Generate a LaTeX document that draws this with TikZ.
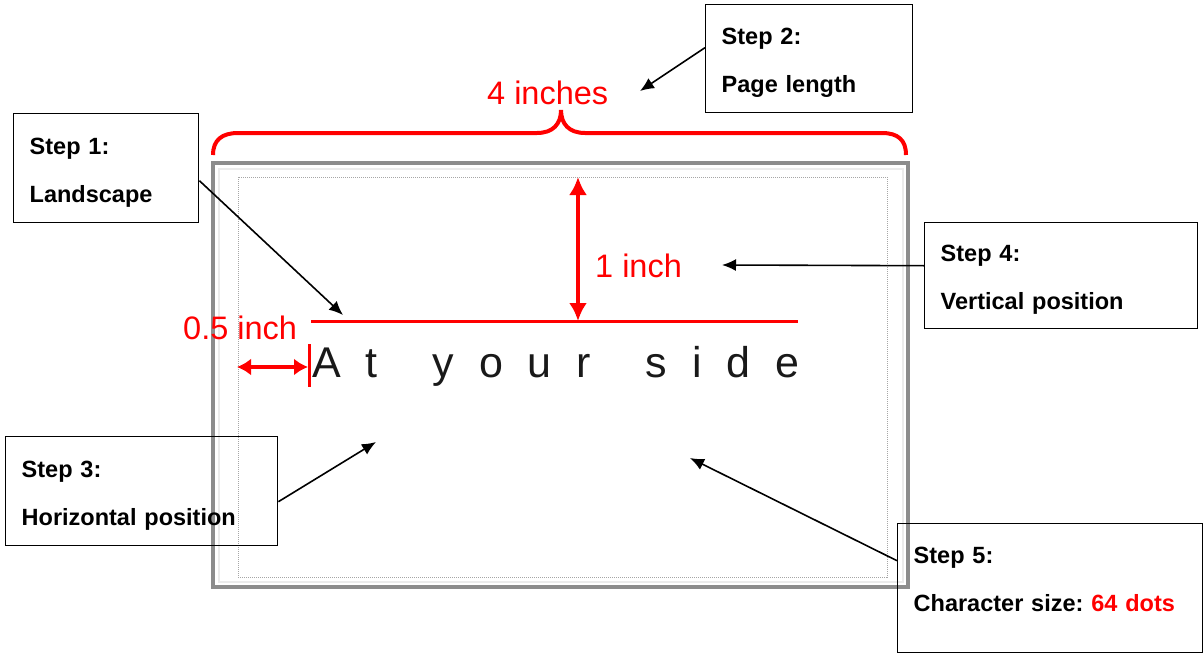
\documentclass[tikz,border=0pt]{standalone}
\usepackage{fontspec}
\setmainfont{Liberation Sans}
\usetikzlibrary{arrows,arrows.meta}
\newcommand{\topstrut}{\rule{0pt}{25pt}}

\tikzset{
  stepbox/.style={draw, line width=1.4pt, anchor=north west, align=left,
    inner xsep=16pt, inner ysep=0pt, font=\bfseries\fontsize{23.5}{48}\selectfont\frenchspacing},
  redlabel/.style={red, anchor=base west, inner sep=0pt, font=\fontsize{32.5}{36}\selectfont},
  pointer/.style={-{Latex[length=14pt,width=12pt]}, line width=1.6pt},
  bigdim/.style={red, line width=4pt, {Latex[length=18pt,width=18pt]}-{Latex[length=18pt,width=18pt]}},
  smalldim/.style={red, line width=4pt, {Latex[length=14pt,width=17pt]}-{Latex[length=14pt,width=17pt]}},
}

\begin{document}
\begin{tikzpicture}[x=1pt, y=-1pt]
\useasboundingbox (0,0) rectangle (1203,653);
%%%%% Page %%%%%
\draw[black!45, line width=4.5pt] (213,163) rectangle (908,587);
\draw[black!8, line width=2pt] (218.5,168.5) rectangle (902.5,581.5);
\draw[black!35, densely dotted, line width=1pt] (238,177) rectangle (887,577);
\node[anchor=base west, inner sep=0pt, black!90,
  font=\fontsize{43}{48}\selectfont\addfontfeature{LetterSpace=58}] (sample) at (312,377)
  {At\hspace{18pt} your\hspace{18pt} side};

%%%%% Red marks %%%%%
\draw[red, line width=4pt] (213,155) .. controls (213,140) and (222,133) .. (238,133) -- (537,133)
  .. controls (553,133) and (561,124) .. (561,110) .. controls (561,124) and (569,133) .. (585,133)
  -- (882,133) .. controls (898,133) and (906,140) .. (906,155);
\node[redlabel] (length) at (487,104) {4 inches};
\coordinate (top) at (578,177);
\coordinate (baseL) at (311,321);
\coordinate (baseR) at (798,321);
\coordinate (base) at (578,321);
\draw[red, line width=3pt] (baseL) -- (baseR);
\draw[bigdim] (top) -- (base);
\node[redlabel] (vert) at (595,277) {1 inch};
\coordinate (edge) at (237,367);
\coordinate (start) at (308,367);
\draw[smalldim] (edge) -- (start);
\draw[red, line width=2.5pt] (309.5,344) -- (309.5,387);
\node[redlabel] (horiz) at (183,339) {0.5 inch};

%%%%% Steps %%%%%
\node[stepbox, minimum width=185pt, minimum height=109pt, text width=153pt] (step1) at (13,113) {\topstrut Step 1:\\Landscape};
\node[stepbox, minimum width=207pt, minimum height=108pt, text width=175pt] (step2) at (705,4) {\topstrut Step 2:\\Page length};
\node[stepbox, minimum width=272pt, minimum height=109pt, text width=240pt] (step3) at (5,436) {\topstrut Step 3:\\Horizontal position};
\node[stepbox, minimum width=273pt, minimum height=106pt, text width=241pt] (step4) at (924,222) {\topstrut Step 4:\\Vertical position};
\node[stepbox, minimum width=305pt, minimum height=129pt, text width=273pt] (step5) at (897,523)
  {\topstrut Step 5:\\Character size: \textcolor{red}{64 dots}\rule[-27pt]{0pt}{0pt}};

\coordinate (tip1) at (343,315);
\coordinate (tip2) at (640,91);
\coordinate (tip3) at (376,442);
\coordinate (tip4) at (722,265);
\coordinate (tip5) at (690,458);
\draw[pointer] ([yshift=-12.5pt]step1.east) -- (tip1);
\draw[pointer] ([yshift=11pt]step2.west) -- (tip2);
\draw[pointer] ([yshift=-10.5pt]step3.east) -- (tip3);
\draw[pointer] ([yshift=10pt]step4.west) -- (tip4);
\draw[pointer] ([yshift=27.5pt]step5.west) -- (tip5);
\end{tikzpicture}
\end{document}
